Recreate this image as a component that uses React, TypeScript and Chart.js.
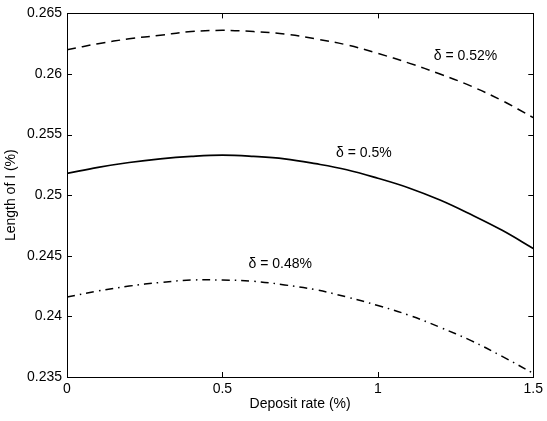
import React, { useEffect, useRef } from "react";
import { Chart, registerables } from "chart.js";

Chart.register(...registerables);

const depositRate = [0, 0.1, 0.2, 0.3, 0.4, 0.5, 0.6, 0.7, 0.8, 0.9, 1.0, 1.1, 1.2, 1.3, 1.4, 1.5];
const length052 = [0.2620, 0.2625, 0.2629, 0.2632, 0.2635, 0.2636, 0.2635, 0.2633, 0.2629, 0.2624, 0.2617, 0.2609, 0.2600, 0.2590, 0.2578, 0.2564];
const length050 = [0.2518, 0.2523, 0.2527, 0.2530, 0.2532, 0.2533, 0.2532, 0.2530, 0.2526, 0.2521, 0.2514, 0.2506, 0.2496, 0.2484, 0.2471, 0.2456];
const length048 = [0.2416, 0.2421, 0.2425, 0.2428, 0.2430, 0.2430, 0.2429, 0.2426, 0.2422, 0.2416, 0.2409, 0.2401, 0.2391, 0.2380, 0.2367, 0.2353];
const xTicks = [0, 0.5, 1, 1.5];
const yTicks = [0.235, 0.24, 0.245, 0.25, 0.255, 0.26, 0.265];
const curveLabels = ["δ = 0.52%", "δ = 0.5%", "δ = 0.48%"];
const labelX = [1.282, 0.955, 0.686];
const labelY = [0.2615, 0.2535, 0.2443];

const FONT = "'Liberation Sans', Arial, Helvetica, sans-serif";

const boxPlugin = {
  id: "boxTicks",
  afterDraw(chart: any) {
    const { ctx, chartArea, scales } = chart;
    const { left, right, top, bottom } = chartArea;
    ctx.save();
    ctx.strokeStyle = "#000";
    ctx.lineWidth = 1;
    ctx.strokeRect(Math.round(left) + 0.5, Math.round(top) + 0.5, Math.round(right - left), Math.round(bottom - top));
    const tl = 5;
    ctx.beginPath();
    xTicks.forEach((v) => {
      const px = Math.round(scales.x.getPixelForValue(v)) + 0.5;
      ctx.moveTo(px, bottom);
      ctx.lineTo(px, bottom - tl);
      ctx.moveTo(px, top);
      ctx.lineTo(px, top + tl);
    });
    yTicks.forEach((v) => {
      const py = Math.round(scales.y.getPixelForValue(v)) + 0.5;
      ctx.moveTo(left, py);
      ctx.lineTo(left + tl, py);
      ctx.moveTo(right, py);
      ctx.lineTo(right - tl, py);
    });
    ctx.stroke();
    ctx.fillStyle = "#000";
    ctx.font = `14px ${FONT}`;
    ctx.textAlign = "center";
    ctx.textBaseline = "middle";
    curveLabels.forEach((t, i) => {
      ctx.fillText(t, scales.x.getPixelForValue(labelX[i]), scales.y.getPixelForValue(labelY[i]));
    });
    ctx.restore();
  },
};

export default function App() {
  const ref = useRef<HTMLCanvasElement | null>(null);
  useEffect(() => {
    if (!ref.current) return;
    const mk = (data: number[]) => depositRate.map((x, i) => ({ x, y: data[i] }));
    const chart = new Chart(ref.current, {
      type: "line",
      data: {
        datasets: [
          { label: "0.52", data: mk(length052), borderColor: "#000", borderWidth: 1.5, borderDash: [9, 6], pointRadius: 0, tension: 0.4, fill: false },
          { label: "0.5", data: mk(length050), borderColor: "#000", borderWidth: 1.7, pointRadius: 0, tension: 0.4, fill: false },
          { label: "0.48", data: mk(length048), borderColor: "#000", borderWidth: 1.5, borderDash: [8, 5, 1.5, 5], pointRadius: 0, tension: 0.4, fill: false },
        ],
      },
      options: {
        responsive: false,
        animation: false,
        devicePixelRatio: 1,
        layout: { padding: { top: 9, right: 12, left: 0, bottom: 0 } },
        plugins: { legend: { display: false }, tooltip: { enabled: false } },
        scales: {
          x: {
            type: "linear",
            min: 0,
            max: 1.5,
            afterFit: (s: any) => { s.height = 44; },
            afterBuildTicks: (s: any) => { s.ticks = xTicks.map((v) => ({ value: v })); },
            grid: { display: false, drawTicks: false },
            border: { display: false },
            ticks: { color: "#000", font: { family: FONT, size: 14 }, padding: 4, maxRotation: 0, callback: (v: any) => String(Number(Number(v).toFixed(3))) },
            title: { display: true, text: "Deposit rate (%)", color: "#000", font: { family: FONT, size: 14 }, padding: { top: 0, bottom: 8 } },
          },
          y: {
            type: "linear",
            min: 0.235,
            max: 0.265,
            afterFit: (s: any) => { s.width = 67; },
            afterBuildTicks: (s: any) => { s.ticks = yTicks.map((v) => ({ value: v })); },
            grid: { display: false, drawTicks: false },
            border: { display: false },
            ticks: { color: "#000", font: { family: FONT, size: 14 }, padding: 5, callback: (v: any) => String(Number(Number(v).toFixed(3))) },
            title: { display: true, text: "Length of I (%)", color: "#000", font: { family: FONT, size: 14 }, padding: { top: 3, bottom: 0 } },
          },
        },
      },
      plugins: [boxPlugin],
    });
    return () => chart.destroy();
  }, []);
  return (
    <div style={{ position: "absolute", left: 0, top: 0, width: 547, height: 421, background: "#fff" }}>
      <canvas ref={ref} width={547} height={421} style={{ width: 547, height: 421, display: "block" }} />
    </div>
  );
}
